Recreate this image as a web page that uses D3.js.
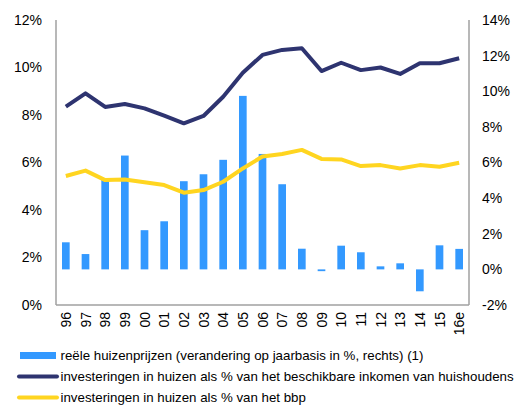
<!DOCTYPE html>
<html><head><meta charset="utf-8">
<script src="https://cdn.jsdelivr.net/npm/d3@7"></script>
<style>body{margin:0;background:#fff}svg{display:block}text{font-family:"Liberation Sans",Arial,sans-serif;fill:#000}</style>
</head><body>
<svg id="c" width="516" height="405"></svg>
<script>
const years = ["96","97","98","99","00","01","02","03","04","05","06","07","08","09","10","11","12","13","14","15","16e"];
const prices = [1.52,0.86,5.06,6.39,2.2,2.7,4.95,5.34,6.15,9.74,6.48,4.78,1.16,-0.1,1.33,0.96,0.17,0.34,-1.23,1.35,1.15];
const incomeShare = [8.35,8.91,8.34,8.46,8.28,7.97,7.65,7.96,8.77,9.78,10.53,10.74,10.81,9.85,10.2,9.89,10.0,9.73,10.18,10.18,10.39];
const gdpShare = [5.43,5.66,5.26,5.28,5.17,5.05,4.73,4.84,5.19,5.75,6.25,6.36,6.53,6.15,6.13,5.85,5.89,5.75,5.89,5.82,5.99];
const leftTicks = [0,2,4,6,8,10,12];
const rightTicks = [-2,0,2,4,6,8,10,12,14];
const legendLabels = ["reële huizenprijzen (verandering op jaarbasis in %, rechts) (1)","investeringen in huizen als % van het beschikbare inkomen van huishoudens","investeringen in huizen als % van het bbp"];
const colors = {bar:"#3399ff", income:"#2e3470", gdp:"#ffd520"};

const svg = d3.select("#c");
const L=56, R=469, T=20, B=305;
const x = d3.scaleBand().domain(years).range([L,R]).paddingInner(0.61).paddingOuter(0.305);
const yL = d3.scaleLinear().domain([0,12]).range([B,T]);
const yR = d3.scaleLinear().domain([-2,14]).range([B,T]);

// bars
svg.append("g").selectAll("rect").data(prices).join("rect")
  .attr("x",(d,i)=>x(years[i])).attr("width",x.bandwidth())
  .attr("y",d=>yR(Math.max(0,d))).attr("height",d=>Math.abs(yR(d)-yR(0)))
  .attr("fill",colors.bar);

const cx = i => x(years[i]) + x.bandwidth()/2;
const line = d3.line().x((d,i)=>cx(i)).y(d=>yL(d));
svg.append("path").datum(incomeShare).attr("d",line).attr("fill","none").attr("stroke",colors.income).attr("stroke-width",4).attr("stroke-linejoin","round");
svg.append("path").datum(gdpShare).attr("d",line).attr("fill","none").attr("stroke",colors.gdp).attr("stroke-width",4).attr("stroke-linejoin","round");

// axes
const ax = svg.append("g").attr("stroke","#a0a0a0").attr("stroke-width",1.5);
ax.append("line").attr("x1",L).attr("x2",L).attr("y1",T).attr("y2",B);
ax.append("line").attr("x1",R).attr("x2",R).attr("y1",T).attr("y2",B);
ax.append("line").attr("x1",L).attr("x2",R).attr("y1",B).attr("y2",B);

svg.append("g").selectAll("text").data(leftTicks).join("text")
  .attr("x",42).attr("y",d=>yL(d)).attr("dy","0.35em").attr("text-anchor","end")
  .attr("font-size",14).text(d=>d+"%");
svg.append("g").selectAll("text").data(rightTicks).join("text")
  .attr("x",482).attr("y",d=>yR(d)).attr("dy","0.35em").attr("text-anchor","start")
  .attr("font-size",14).text(d=>d+"%");
svg.append("g").selectAll("text").data(years).join("text")
  .attr("transform",(d,i)=>`translate(${cx(i)+5},312) rotate(-90)`)
  .attr("text-anchor","end").attr("font-size",14).text(d=>d);

// legend
const lg = svg.append("g");
const ly = [355.5,376.5,397.5];
lg.append("rect").attr("x",20).attr("y",ly[0]-3.5).attr("width",36).attr("height",7).attr("fill",colors.bar);
lg.append("line").attr("x1",19).attr("x2",57).attr("y1",ly[1]).attr("y2",ly[1]).attr("stroke",colors.income).attr("stroke-width",4).attr("stroke-linecap","round");
lg.append("line").attr("x1",19).attr("x2",57).attr("y1",ly[2]).attr("y2",ly[2]).attr("stroke",colors.gdp).attr("stroke-width",4).attr("stroke-linecap","round");
lg.selectAll("text").data(legendLabels).join("text")
  .attr("x",60.5).attr("y",(d,i)=>ly[i]).attr("dy","0.35em").attr("font-size",13.3).text(d=>d);
</script>
</body></html>
